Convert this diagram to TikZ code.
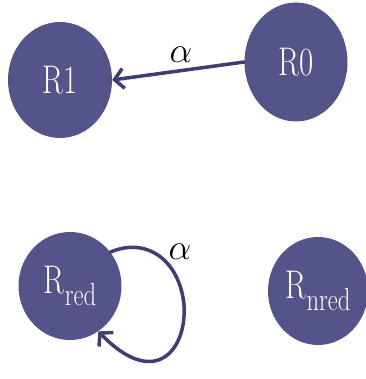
\documentclass[tikz,border=0pt]{standalone}
\usepackage{fix-cm}
\usepackage{graphicx}
\usetikzlibrary{shapes.geometric,arrows.meta}
\definecolor{stateblue}{HTML}{54548A}
\definecolor{edgeblue}{HTML}{3E3E75}
\newcommand{\stlabel}[1]{\fontsize{40}{44}\selectfont\scalebox{0.77}[1]{#1}}
\newcommand{\stsub}[1]{\raisebox{-12pt}{\fontsize{32}{34}\selectfont #1}}
\tikzset{
  statenode/.style={ellipse, fill=stateblue, draw=none, inner sep=0pt, text=white},
  edgeline/.style={draw=edgeblue, line width=3.5pt, line cap=round,
    -{Straight Barb[length=9pt, width=20pt, line width=3.5pt]}},
  alphalabel/.style={inner sep=0pt, font=\fontsize{36}{40}\selectfont}
}
\begin{document}
\begin{tikzpicture}[x=1pt, y=-1pt]
\useasboundingbox (0,0) rectangle (365,379);
\node[statenode, minimum width=104pt, minimum height=116pt] (R1) at (60,80) {\stlabel{R1}};
\node[statenode, minimum width=103pt, minimum height=119pt] (R0) at (296,62) {\stlabel{R0}};
\node[statenode, minimum width=103pt, minimum height=108pt] (Rred) at (70,286) {\stlabel{R\stsub{red}}};
\node[statenode, minimum width=100pt, minimum height=108pt] (Rnred) at (318,291) {\stlabel{R\stsub{nred}}};
\draw[edgeline] (R0.west) -- (R1.east);
\node[alphalabel] (a1) at (181,55) {$\alpha$};
\draw[edgeline] (Rred.40) .. controls (148,236) and (180,262) .. (184,305)
  .. controls (187,350) and (155,390) .. (Rred.-58);
\node[alphalabel] (a2) at (180,252) {$\alpha$};
\end{tikzpicture}
\end{document}
